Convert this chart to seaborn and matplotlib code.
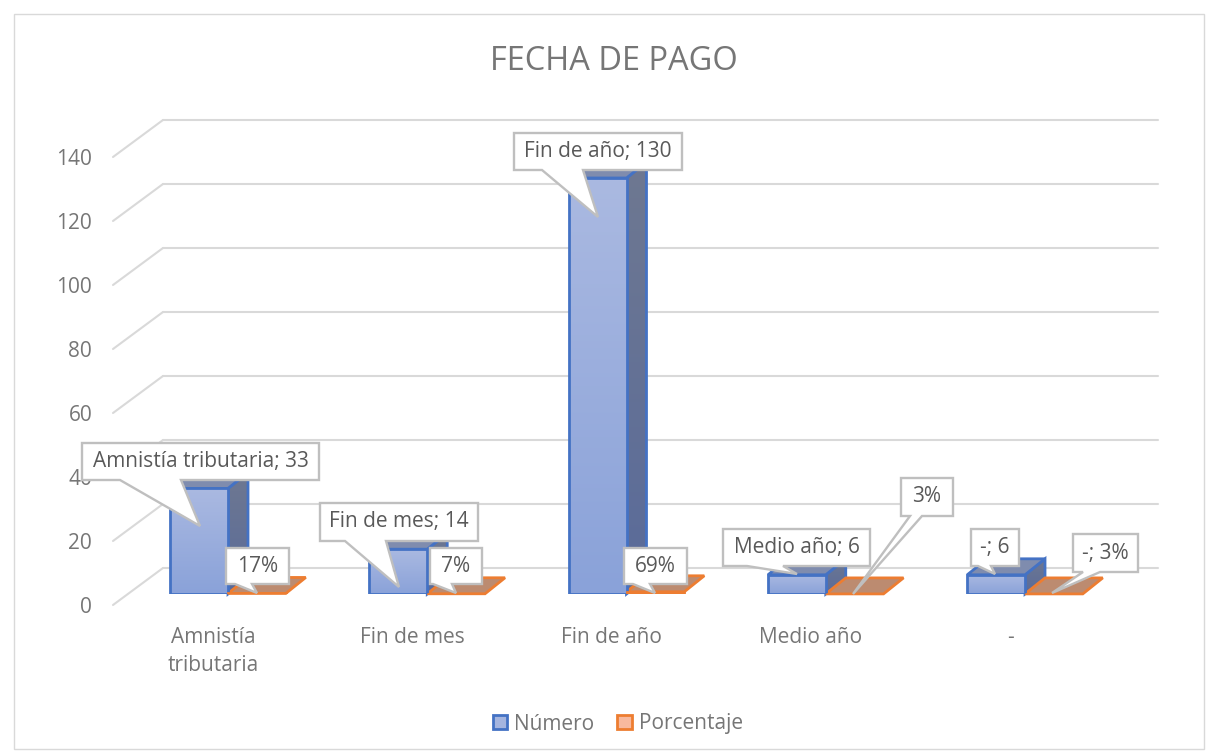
import numpy as np
import pandas as pd
import matplotlib
matplotlib.use('Agg')
import matplotlib.pyplot as plt
import seaborn as sns
from matplotlib.colors import to_rgb
from matplotlib.patches import Patch, Polygon, Rectangle
from matplotlib.transforms import Affine2D, ScaledTranslation

# ---- data ----
categorias = ['Amnistía\ntributaria', 'Fin de mes', 'Fin de año', 'Medio año', '-']
nombres = ['Amnistía tributaria', 'Fin de mes', 'Fin de año', 'Medio año', '-']
numero = [33, 14, 130, 6, 6]
porcentaje = [0.17, 0.07, 0.69, 0.03, 0.03]
y_ticks = [0, 20, 40, 60, 80, 100, 120, 140]

GRID = '#D9D9D9'
TEXT = '#595959'
SOFT_TEXT = '#767676'
LABEL_EDGE = '#BFBFBF'

df = pd.DataFrame({
    'cat': categorias * 2,
    'serie': ['Número'] * 5 + ['Porcentaje'] * 5,
    'valor': numero + porcentaje,
})

sns.set_style('white')
plt.rcParams['font.family'] = ['Open Sans', 'DejaVu Sans']

W, H = 1206, 753
fig = plt.figure(figsize=(W / 100, H / 100), dpi=100)
ax = fig.add_axes([113 / W, (H - 594) / H, 1045 / W, 500 / H])
ax.patch.set_alpha(0)

sns.barplot(data=df, x='cat', y='valor', hue='serie', width=0.58, ax=ax, legend=False,
            palette=['#A5B5DF', '#BC8B70'], saturation=1,
            edgecolor='#4472C4', linewidth=2, zorder=4)

x_px = 199.25
ax.set_xlim((113 - 228) / x_px, (1158 - 228) / x_px)
ax.set_ylim(0, 500 / 3.2)
xlim, ylim = ax.get_xlim(), ax.get_ylim()
dx, dy = 20 / x_px, 16 / 3.2


def shifted(px_x, px_y):
    # data/axes transform moved by some pixels, y counted downwards
    return ScaledTranslation(px_x / 100, -px_y / 100, fig.dpi_scale_trans)


def gradient(points, top, bottom, zorder):
    # fill a polygon with a vertical colour gradient
    points = np.array(points)
    ramp = np.linspace(to_rgb(top), to_rgb(bottom), 64)[:, None, :]
    im = ax.imshow(ramp, aspect='auto', zorder=zorder, interpolation='bilinear',
                   extent=(points[:, 0].min(), points[:, 0].max(), points[:, 1].min(), points[:, 1].max()))
    clip = Polygon(points, transform=ax.transData)
    im.set_clip_path(clip)


# ---- back wall grid and floor lines ----
back = ax.get_yaxis_transform() + shifted(0, -26)
front = ax.get_yaxis_transform() + shifted(0, 11)
x_back = 50 / 1045
for t in y_ticks:
    ax.plot([x_back, 1], [t, t], color=GRID, lw=1.5, transform=back, clip_on=False, zorder=1)
    p_back = back.transform((x_back, t))
    p_front = front.transform((0, t))
    ax.plot([p_front[0], p_back[0]], [p_front[1], p_back[1]], color=GRID, lw=1.5,
            transform=None, clip_on=False, zorder=1)

# ---- fake 3D faces, taken from the bars seaborn drew ----
for bar in ax.containers[0]:
    x0, w, h = bar.get_x(), bar.get_width(), bar.get_height()
    side = [(x0 + w, 0), (x0 + w + dx, dy), (x0 + w + dx, h + dy), (x0 + w, h)]
    top = [(x0, h), (x0 + w, h), (x0 + w + dx, h + dy), (x0 + dx, h + dy)]
    gradient(side, '#6E7891', '#5A6B9A', 2.6)
    ax.add_patch(Polygon(side, fc='none', ec='#4472C4', lw=2, zorder=3, clip_on=False))
    ax.add_patch(Polygon(top, fc='#7F8CAE', ec='#4472C4', lw=2, zorder=3, clip_on=False))
    gradient([(x0, 0), (x0 + w, 0), (x0 + w, h), (x0, h)], '#AAB9E1', '#8AA2D9', 3.5)
    bar.set_facecolor('none')

for bar in ax.containers[1]:
    x0, w, h = bar.get_x(), bar.get_width(), bar.get_height()
    top = [(x0, h), (x0 + w, h), (x0 + w + dx, h + dy), (x0 + dx, h + dy)]
    ax.add_patch(Polygon(top, fc='#BC8B70', ec='#ED7D31', lw=2, zorder=3.2, clip_on=False))
    bar.set_edgecolor('#ED7D31')

ax.set_xlim(xlim)
ax.set_ylim(ylim)

# ---- axes text ----
sns.despine(ax=ax, left=True, bottom=True, right=True, top=True)
ax.set_xlabel('')
ax.set_ylabel('')
ax.set_yticks(y_ticks)
ax.tick_params(axis='y', length=0, pad=15, labelsize=15, labelcolor=SOFT_TEXT)
ax.tick_params(axis='x', length=0, pad=24, labelsize=15, labelcolor=SOFT_TEXT)
for lab in ax.get_yticklabels():
    lab.set_transform(lab.get_transform() + shifted(0, 11))
for lab in ax.get_xticklabels():
    lab.set_transform(lab.get_transform() + shifted(-15, 0))
    lab.set_linespacing(1.42)

# ---- callouts, pixel coordinates from the top left corner ----
px = Affine2D().scale(1, -1).translate(0, H)


def callout(text, x0, y0, x1, y1, base_a, tip, base_b):
    shape = [(x0, y0), (x1, y0), (x1, y1), (base_b, y1), tip, (base_a, y1), (x0, y1)]
    ax.add_patch(Polygon(shape, closed=True, fc='white', ec=LABEL_EDGE, lw=1.7,
                         transform=px, clip_on=False, zorder=10))
    ax.text((x0 + x1) / 2, (y0 + y1) / 2, text, transform=px, ha='center', va='center',
            fontsize=15, color=TEXT, zorder=11)


pct = [f'{round(p * 100)}%' for p in porcentaje]
callout(f'{nombres[0]}; {numero[0]}', 82, 443, 319, 480, 120, (200, 526), 181)
callout(pct[0], 226, 548, 289, 584, 235, (257, 593), 252)
callout(f'{nombres[1]}; {numero[1]}', 320, 503, 478, 541, 345, (399, 587), 386)
callout(pct[1], 430, 548, 482, 584, 433, (456, 593), 452)
callout(f'{nombres[2]}; {numero[2]}', 514, 133, 682, 170, 542, (598, 217), 583)
callout(pct[2], 624, 548, 687, 584, 633, (655, 593), 650)
callout(f'{nombres[3]}; {numero[3]}', 723, 529, 870, 566, 747, (797, 574), 783)
callout(pct[3], 901, 478, 953, 516, 910, (853, 594), 922)
callout(f'{nombres[4]}; {numero[4]}', 971, 529, 1019, 566, 978, (995, 574), 991)
callout(f'{nombres[4]}; {pct[4]}', 1073, 534, 1138, 572, 1083, (1052, 593), 1100)

# ---- title, legend, frame ----
fig.text(614 / W, 1 - 61 / H, 'FECHA DE PAGO', ha='center', va='center', fontsize=23.5, color=SOFT_TEXT)
handles = [Patch(fc='#A5B5DF', ec='#4472C4', lw=2, label='Número'),
           Patch(fc='#F8B99E', ec='#ED7D31', lw=2, label='Porcentaje')]
fig.legend(handles=handles, loc='center', bbox_to_anchor=(618 / W, 1 - 724 / H), ncol=2, frameon=False,
           fontsize=15, labelcolor=SOFT_TEXT, handlelength=0.68, handleheight=0.68, handletextpad=0.35,
           columnspacing=1.1)
fig.add_artist(Rectangle((14 / W, 4 / H), 1190 / W, (H - 18) / H, transform=fig.transFigure,
                         fc='none', ec=GRID, lw=1))

fig.savefig('out.png', dpi=100, facecolor='white')
